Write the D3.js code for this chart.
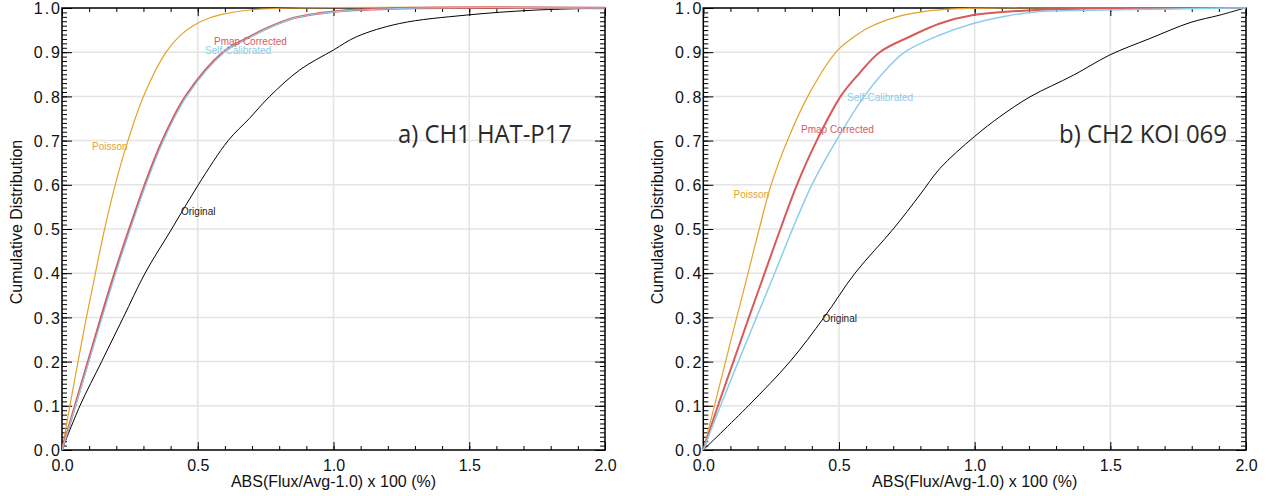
<!DOCTYPE html>
<html>
<head>
<meta charset="utf-8">
<script src="https://cdn.jsdelivr.net/npm/d3@7"></script>
<style>
  body { margin: 0; background: #fff; }
  svg { display: block; }
  .tick text { font-family: "Liberation Sans", Arial, sans-serif; fill: #111; }
</style>
</head>
<body>
<div class="chart"></div>
<script>
// axis ticks
const xMajor = [0, 0.5, 1.0, 1.5, 2.0];
const xLabels = ['0.0', '0.5', '1.0', '1.5', '2.0'];
const yMajor = [0, 0.1, 0.2, 0.3, 0.4, 0.5, 0.6, 0.7, 0.8, 0.9, 1.0];
const yLabels = ['0.0', '0.1', '0.2', '0.3', '0.4', '0.5', '0.6', '0.7', '0.8', '0.9', '1.0'];
const seriesNames = ['Poisson', 'Pmap Corrected', 'Self-Calibrated', 'Original'];
const panelTitles = ['a) CH1 HAT-P17', 'b) CH2 KOI 069'];

// panel a : CH1 HAT-P17
const aPoissonX = [0, 0.029, 0.059, 0.090, 0.123, 0.157, 0.196, 0.243, 0.300, 0.383, 0.434, 0.483, 0.545, 0.606, 0.69, 0.85, 2.0];
const aPoissonY = [0, 0.1, 0.2, 0.3, 0.4, 0.5, 0.6, 0.7, 0.8, 0.9, 0.937, 0.96, 0.978, 0.988, 0.9955, 1.0, 1.0];
const aPmapX = [0, 0.048, 0.096, 0.144, 0.194, 0.248, 0.305, 0.370, 0.455, 0.594, 0.680, 0.754, 0.852, 0.95, 1.02, 1.3, 2.0];
const aPmapY = [0, 0.1, 0.2, 0.3, 0.4, 0.5, 0.6, 0.7, 0.8, 0.9, 0.931, 0.954, 0.977, 0.988, 0.993, 1.0, 1.0];
const aSelfX = [0, 0.050, 0.099, 0.148, 0.198, 0.252, 0.309, 0.374, 0.459, 0.598, 0.684, 0.758, 0.856, 0.955, 1.03, 1.32, 2.0];
const aSelfY = [0, 0.1, 0.2, 0.3, 0.4, 0.5, 0.6, 0.7, 0.8, 0.9, 0.931, 0.954, 0.977, 0.988, 0.993, 1.0, 1.0];
const aOrigX = [0, 0.066, 0.146, 0.226, 0.306, 0.404, 0.502, 0.612, 0.690, 0.765, 0.876, 1.0, 1.085, 1.244, 1.49, 1.735, 2.0];
const aOrigY = [0, 0.1, 0.2, 0.3, 0.4, 0.5, 0.6, 0.7, 0.75, 0.8, 0.86, 0.905, 0.935, 0.965, 0.984, 0.995, 1.0];

// panel b : CH2 KOI 069
const bPoissonX = [0, 0.041, 0.082, 0.123, 0.165, 0.206, 0.250, 0.310, 0.385, 0.489, 0.547, 0.614, 0.713, 0.811, 0.921, 1.1, 2.0];
const bPoissonY = [0, 0.1, 0.2, 0.3, 0.4, 0.5, 0.6, 0.7, 0.8, 0.9, 0.931, 0.957, 0.98, 0.992, 0.998, 1.0, 1.0];
const bPmapX = [0, 0.054, 0.111, 0.168, 0.226, 0.284, 0.345, 0.418, 0.506, 0.572, 0.650, 0.762, 0.872, 0.995, 1.179, 1.364, 1.6, 2.0];
const bPmapY = [0, 0.1, 0.2, 0.3, 0.4, 0.5, 0.6, 0.7, 0.8, 0.85, 0.9, 0.9355, 0.965, 0.984, 0.994, 0.998, 1.0, 1.0];
const bSelfX = [0, 0.0635, 0.129, 0.196, 0.263, 0.329, 0.400, 0.49, 0.593, 0.658, 0.742, 0.872, 0.995, 1.118, 1.241, 1.425, 1.732, 1.95, 2.0];
const bSelfY = [0, 0.1, 0.2, 0.3, 0.4, 0.5, 0.6, 0.7, 0.8, 0.85, 0.9, 0.939, 0.965, 0.982, 0.992, 0.995, 0.998, 1.0, 1.0];
const bOrigX = [0, 0.166, 0.3195, 0.445, 0.559, 0.700, 0.798, 0.872, 0.999, 1.093, 1.204, 1.364, 1.499, 1.646, 1.794, 1.904, 1.996];
const bOrigY = [0, 0.1, 0.2, 0.3, 0.4, 0.5, 0.577, 0.637, 0.709, 0.754, 0.799, 0.848, 0.894, 0.931, 0.967, 0.984, 1.0];

const colors = ['#E6A22A', '#D95A5A', '#8CCDEA', '#000000'];

const svg = d3.select('.chart').append('svg')
  .attr('width', 1270)
  .attr('height', 496);
svg.append('rect').attr('width', 1270).attr('height', 496).attr('fill', '#fff');

const zip = (xs, ys) => xs.map((x, i) => [x, ys[i]]);

function drawPanel(p) {
  const x = d3.scaleLinear().domain([0, 2]).range([p.left, p.right]);
  const y = d3.scaleLinear().domain([0, 1]).range([450, 8]);
  const g = svg.append('g');

  // grid
  g.append('g').selectAll('line').data(yMajor.slice(1, -1)).join('line')
    .attr('x1', p.left).attr('x2', p.right)
    .attr('y1', d => y(d)).attr('y2', d => y(d))
    .attr('stroke', '#e4e4e4').attr('stroke-width', 1.5);
  g.append('g').selectAll('line').data(xMajor.slice(1, -1)).join('line')
    .attr('y1', 8).attr('y2', 450)
    .attr('x1', d => x(d)).attr('x2', d => x(d))
    .attr('stroke', '#e4e4e4').attr('stroke-width', 1.5);

  // ticks
  const minorX = d3.range(0, 21).map(d => d / 10);
  const minorY = d3.range(0, 101).map(d => d / 100);
  const noText = () => '';
  const axes = [
    [d3.axisBottom(x).tickValues(minorX).tickSize(-4).tickFormat(noText), `translate(0,${y(0)})`],
    [d3.axisTop(x).tickValues(minorX).tickSize(-4).tickFormat(noText), `translate(0,${y(1)})`],
    [d3.axisTop(x).tickValues(xMajor).tickSize(-8).tickFormat(noText), `translate(0,${y(1)})`],
    [d3.axisLeft(y).tickValues(minorY).tickSize(-5).tickFormat(noText), `translate(${p.left},0)`],
    [d3.axisRight(y).tickValues(minorY).tickSize(-5).tickFormat(noText), `translate(${p.right},0)`],
    [d3.axisRight(y).tickValues(yMajor).tickSize(-10).tickFormat(noText), `translate(${p.right},0)`]
  ];
  axes.forEach(a => {
    const ag = g.append('g').attr('transform', a[1]).call(a[0]);
    ag.select('.domain').remove();
  });

  const xb = g.append('g').attr('transform', `translate(0,${y(0)})`)
    .call(d3.axisBottom(x).tickValues(xMajor).tickSize(-8).tickPadding(10)
      .tickFormat((d, i) => xLabels[i]));
  xb.select('.domain').remove();
  xb.selectAll('text').attr('font-size', 16);

  const yl = g.append('g').attr('transform', `translate(${p.left},0)`)
    .call(d3.axisLeft(y).tickValues(yMajor).tickSize(-10).tickPadding(0)
      .tickFormat((d, i) => yLabels[i]));
  yl.select('.domain').remove();
  yl.selectAll('text').attr('font-size', 16).attr('letter-spacing', 2).attr('dy', '0.36em');

  g.selectAll('.tick line').attr('stroke', '#000').attr('stroke-width', 1);

  // frame
  g.append('rect')
    .attr('x', p.left).attr('y', 8)
    .attr('width', p.right - p.left).attr('height', 442)
    .attr('fill', 'none').attr('stroke', '#000').attr('stroke-width', 1.5);

  // curves (drawn over the frame, as in the original)
  const clipId = 'clip' + p.index;
  svg.append('clipPath').attr('id', clipId)
    .append('rect').attr('x', p.left).attr('y', 6).attr('width', p.right - p.left).attr('height', 445);
  const line = d3.line().x(d => x(d[0])).y(d => y(d[1])).curve(d3.curveCatmullRom.alpha(0.5));
  const curves = g.append('g').attr('clip-path', `url(#${clipId})`);
  const order = [3, 0, 1, 2];
  order.forEach(i => {
    curves.append('path')
      .datum(p.series[i])
      .attr('fill', 'none')
      .attr('stroke', colors[i])
      .attr('stroke-width', p.widths[i])
      .attr('stroke-linejoin', 'round')
      .attr('d', line);
  });

  // series labels
  p.labels.forEach((l, i) => {
    g.append('text')
      .attr('x', l[0]).attr('y', l[1])
      .attr('font-family', 'Liberation Sans, Arial, sans-serif')
      .attr('font-size', 10)
      .attr('fill', i === 3 ? '#222' : colors[i])
      .text(seriesNames[i]);
  });

  // axis titles
  g.append('text')
    .attr('transform', `translate(${p.left - 40},222) rotate(-90)`)
    .attr('text-anchor', 'middle')
    .attr('font-family', 'Liberation Sans, Arial, sans-serif')
    .attr('font-size', 16).attr('fill', '#111')
    .text('Cumulative Distribution');
  g.append('text')
    .attr('x', (p.left + p.right) / 2).attr('y', 487)
    .attr('text-anchor', 'middle')
    .attr('font-family', 'Liberation Sans, Arial, sans-serif')
    .attr('font-size', 16).attr('fill', '#111')
    .text('ABS(Flux/Avg-1.0) x 100 (%)');

  // panel title
  g.append('text')
    .attr('x', p.title[0]).attr('y', 143)
    .attr('font-family', 'Open Sans, Lato, sans-serif')
    .attr('font-size', 25).attr('fill', '#2a2a2a')
    .attr('textLength', p.title[1]).attr('lengthAdjust', 'spacingAndGlyphs')
    .text(panelTitles[p.index]);
}

drawPanel({
  index: 0, left: 62, right: 605,
  series: [zip(aPoissonX, aPoissonY), zip(aPmapX, aPmapY), zip(aSelfX, aSelfY), zip(aOrigX, aOrigY)],
  widths: [1.2, 2.4, 1.2, 1],
  labels: [[92, 149.5], [214, 44.5], [205, 54], [181, 214.5]],
  title: [398, 174]
});
drawPanel({
  index: 1, left: 703.3, right: 1246,
  series: [zip(bPoissonX, bPoissonY), zip(bPmapX, bPmapY), zip(bSelfX, bSelfY), zip(bOrigX, bOrigY)],
  widths: [1.2, 2, 1.5, 1],
  labels: [[733.5, 197.5], [801, 133], [847, 100.5], [822.5, 322]],
  title: [1059, 168]
});
</script>
</body>
</html>
